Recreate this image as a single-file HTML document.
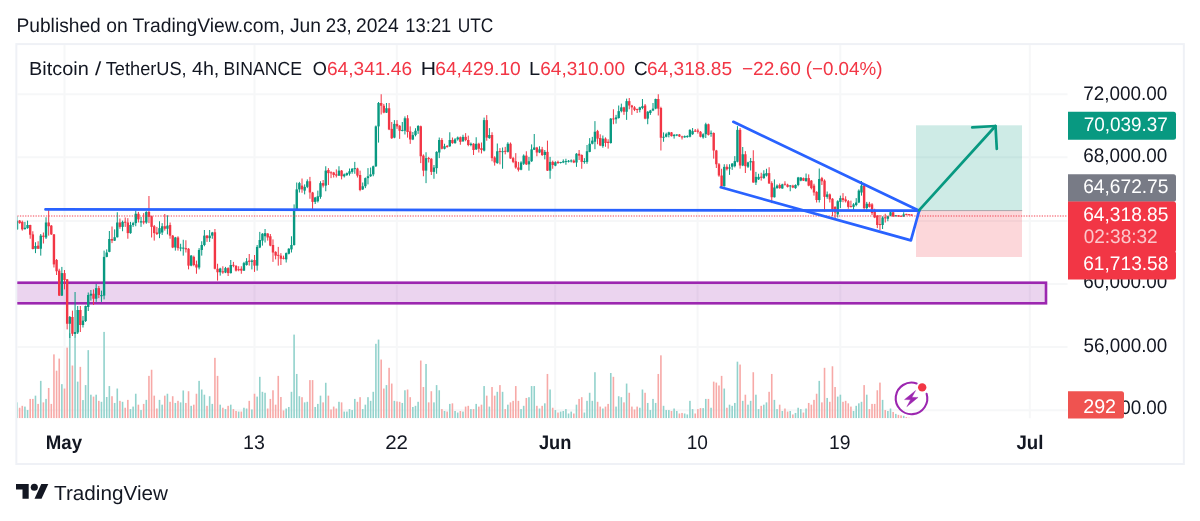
<!DOCTYPE html>
<html lang="en">
<head>
<meta charset="utf-8">
<title>BTCUSDT 4h chart</title>
<style>
html,body{margin:0;padding:0;background:#fff;}
body{width:1200px;height:521px;overflow:hidden;}
svg{display:block;font-family:"Liberation Sans",sans-serif;opacity:0.9999;will-change:opacity;}
text{white-space:pre;text-rendering:geometricPrecision;}
</style>
</head>
<body>
<svg width="1200" height="521" viewBox="0 0 1200 521">
<rect x="16.35" y="44.1" width="1167.5" height="419.9" fill="#fff" stroke="#EFF1F6" stroke-width="2"/>
<g stroke="#F6F7F8" stroke-width="2">
<line x1="64.5" y1="45" x2="64.5" y2="418.3"/>
<line x1="254.5" y1="45" x2="254.5" y2="418.3"/>
<line x1="396.8" y1="45" x2="396.8" y2="418.3"/>
<line x1="555.2" y1="45" x2="555.2" y2="418.3"/>
<line x1="697.6" y1="45" x2="697.6" y2="418.3"/>
<line x1="840.3" y1="45" x2="840.3" y2="418.3"/>
<line x1="1029.8" y1="45" x2="1029.8" y2="418.3"/>
<line x1="17.3" y1="94.2" x2="1067.5" y2="94.2"/>
<line x1="17.3" y1="157.3" x2="1067.5" y2="157.3"/>
<line x1="17.3" y1="220.9" x2="1067.5" y2="220.9"/>
<line x1="17.3" y1="284.1" x2="1067.5" y2="284.1"/>
<line x1="17.3" y1="347.1" x2="1067.5" y2="347.1"/>
<line x1="17.3" y1="410.3" x2="1067.5" y2="410.3"/>
</g>
<clipPath id="pane"><rect x="17.3" y="45" width="1050.2" height="373.3"/></clipPath>
<g clip-path="url(#pane)">
<g fill="#92D2CC"><rect x="16.2" y="402.37" width="1.6" height="15.93"/><rect x="24.12" y="406.59" width="1.6" height="11.71"/><rect x="26.75" y="410.05" width="1.6" height="8.25"/><rect x="34.67" y="395.65" width="1.6" height="22.65"/><rect x="39.95" y="380.86" width="1.6" height="37.44"/><rect x="45.23" y="398.91" width="1.6" height="19.39"/><rect x="61.06" y="384.13" width="1.6" height="34.17"/><rect x="68.98" y="333.25" width="1.6" height="85.05"/><rect x="74.26" y="337.09" width="1.6" height="81.21"/><rect x="76.89" y="381.63" width="1.6" height="36.67"/><rect x="82.17" y="400.06" width="1.6" height="18.24"/><rect x="84.81" y="385.09" width="1.6" height="33.21"/><rect x="87.45" y="350.15" width="1.6" height="68.15"/><rect x="90.09" y="394.69" width="1.6" height="23.61"/><rect x="95.37" y="394.69" width="1.6" height="23.61"/><rect x="100.65" y="401.79" width="1.6" height="16.51"/><rect x="103.28" y="331.91" width="1.6" height="86.39"/><rect x="105.92" y="396.99" width="1.6" height="21.31"/><rect x="108.56" y="386.05" width="1.6" height="32.25"/><rect x="113.84" y="402.94" width="1.6" height="15.36"/><rect x="116.48" y="388.54" width="1.6" height="29.76"/><rect x="121.76" y="401.79" width="1.6" height="16.51"/><rect x="129.67" y="409.09" width="1.6" height="9.21"/><rect x="132.31" y="406.59" width="1.6" height="11.71"/><rect x="134.95" y="393.73" width="1.6" height="24.57"/><rect x="140.23" y="410.05" width="1.6" height="8.25"/><rect x="145.51" y="399.87" width="1.6" height="18.43"/><rect x="158.7" y="399.87" width="1.6" height="18.43"/><rect x="161.34" y="404.67" width="1.6" height="13.63"/><rect x="166.62" y="393.73" width="1.6" height="24.57"/><rect x="174.54" y="402.94" width="1.6" height="15.36"/><rect x="179.82" y="402.37" width="1.6" height="15.93"/><rect x="182.45" y="390.46" width="1.6" height="27.84"/><rect x="190.37" y="405.82" width="1.6" height="12.48"/><rect x="198.29" y="380.86" width="1.6" height="37.44"/><rect x="200.93" y="389.5" width="1.6" height="28.8"/><rect x="203.57" y="394.69" width="1.6" height="23.61"/><rect x="208.84" y="396.22" width="1.6" height="22.08"/><rect x="211.48" y="403.9" width="1.6" height="14.4"/><rect x="219.4" y="404.67" width="1.6" height="13.63"/><rect x="224.68" y="409.09" width="1.6" height="9.21"/><rect x="229.96" y="404.67" width="1.6" height="13.63"/><rect x="237.87" y="411.58" width="1.6" height="6.72"/><rect x="243.15" y="407.74" width="1.6" height="10.56"/><rect x="245.79" y="408.51" width="1.6" height="9.79"/><rect x="251.07" y="409.47" width="1.6" height="8.83"/><rect x="256.35" y="396.61" width="1.6" height="21.69"/><rect x="258.99" y="376.83" width="1.6" height="41.47"/><rect x="261.62" y="391.81" width="1.6" height="26.49"/><rect x="264.26" y="392.77" width="1.6" height="25.53"/><rect x="285.38" y="408.51" width="1.6" height="9.79"/><rect x="288.01" y="406.97" width="1.6" height="11.33"/><rect x="290.65" y="391.81" width="1.6" height="26.49"/><rect x="293.29" y="334.6" width="1.6" height="83.7"/><rect x="295.93" y="373.95" width="1.6" height="44.35"/><rect x="298.57" y="396.22" width="1.6" height="22.08"/><rect x="303.85" y="402.37" width="1.6" height="15.93"/><rect x="306.49" y="401.79" width="1.6" height="16.51"/><rect x="314.4" y="406.97" width="1.6" height="11.33"/><rect x="317.04" y="403.9" width="1.6" height="14.4"/><rect x="319.68" y="395.65" width="1.6" height="22.65"/><rect x="324.96" y="382.78" width="1.6" height="35.52"/><rect x="338.16" y="401.79" width="1.6" height="16.51"/><rect x="343.43" y="411.58" width="1.6" height="6.72"/><rect x="346.07" y="411.58" width="1.6" height="6.72"/><rect x="348.71" y="409.09" width="1.6" height="9.21"/><rect x="351.35" y="410.05" width="1.6" height="8.25"/><rect x="353.99" y="398.91" width="1.6" height="19.39"/><rect x="361.91" y="409.09" width="1.6" height="9.21"/><rect x="364.55" y="404.67" width="1.6" height="13.63"/><rect x="367.18" y="397.18" width="1.6" height="21.12"/><rect x="369.82" y="400.83" width="1.6" height="17.47"/><rect x="372.46" y="391.81" width="1.6" height="26.49"/><rect x="375.1" y="343.81" width="1.6" height="74.49"/><rect x="377.74" y="339.59" width="1.6" height="78.71"/><rect x="385.66" y="385.09" width="1.6" height="33.21"/><rect x="393.57" y="400.83" width="1.6" height="17.47"/><rect x="401.49" y="402.94" width="1.6" height="15.36"/><rect x="404.13" y="390.27" width="1.6" height="28.03"/><rect x="412.05" y="406.97" width="1.6" height="11.33"/><rect x="414.69" y="405.82" width="1.6" height="12.48"/><rect x="417.33" y="401.79" width="1.6" height="16.51"/><rect x="425.24" y="363.97" width="1.6" height="54.33"/><rect x="433.16" y="402.37" width="1.6" height="15.93"/><rect x="435.8" y="385.09" width="1.6" height="33.21"/><rect x="438.44" y="390.27" width="1.6" height="28.03"/><rect x="443.72" y="411" width="1.6" height="7.3"/><rect x="448.99" y="403.9" width="1.6" height="14.4"/><rect x="454.27" y="411" width="1.6" height="7.3"/><rect x="456.91" y="412.54" width="1.6" height="5.76"/><rect x="462.19" y="411.58" width="1.6" height="6.72"/><rect x="470.11" y="409.09" width="1.6" height="9.21"/><rect x="475.38" y="403.9" width="1.6" height="14.4"/><rect x="483.3" y="386.05" width="1.6" height="32.25"/><rect x="488.58" y="406.59" width="1.6" height="11.71"/><rect x="496.5" y="391.81" width="1.6" height="26.49"/><rect x="501.77" y="391.81" width="1.6" height="26.49"/><rect x="507.05" y="404.67" width="1.6" height="13.63"/><rect x="520.25" y="409.09" width="1.6" height="9.21"/><rect x="522.89" y="405.82" width="1.6" height="12.48"/><rect x="528.16" y="397.18" width="1.6" height="21.12"/><rect x="530.8" y="386.05" width="1.6" height="32.25"/><rect x="533.44" y="386.05" width="1.6" height="32.25"/><rect x="538.72" y="408.51" width="1.6" height="9.79"/><rect x="544" y="403.33" width="1.6" height="14.97"/><rect x="549.28" y="389.5" width="1.6" height="28.8"/><rect x="554.55" y="410.05" width="1.6" height="8.25"/><rect x="559.83" y="411.58" width="1.6" height="6.72"/><rect x="562.47" y="411" width="1.6" height="7.3"/><rect x="565.11" y="409.09" width="1.6" height="9.21"/><rect x="567.75" y="413.5" width="1.6" height="4.8"/><rect x="570.39" y="411.58" width="1.6" height="6.72"/><rect x="575.67" y="404.67" width="1.6" height="13.63"/><rect x="583.58" y="412.54" width="1.6" height="5.76"/><rect x="586.22" y="400.83" width="1.6" height="17.47"/><rect x="588.86" y="392.77" width="1.6" height="25.53"/><rect x="591.5" y="400.83" width="1.6" height="17.47"/><rect x="594.14" y="372.23" width="1.6" height="46.07"/><rect x="602.06" y="408.51" width="1.6" height="9.79"/><rect x="609.97" y="372.99" width="1.6" height="45.31"/><rect x="615.25" y="406.59" width="1.6" height="11.71"/><rect x="617.89" y="396.22" width="1.6" height="22.08"/><rect x="620.53" y="397.18" width="1.6" height="21.12"/><rect x="625.81" y="383.55" width="1.6" height="34.75"/><rect x="639" y="407.74" width="1.6" height="10.56"/><rect x="641.64" y="389.5" width="1.6" height="28.8"/><rect x="646.92" y="402.94" width="1.6" height="15.36"/><rect x="649.56" y="410.05" width="1.6" height="8.25"/><rect x="652.2" y="398.91" width="1.6" height="19.39"/><rect x="654.84" y="402.94" width="1.6" height="15.36"/><rect x="662.75" y="405.82" width="1.6" height="12.48"/><rect x="665.39" y="410.05" width="1.6" height="8.25"/><rect x="668.03" y="410.05" width="1.6" height="8.25"/><rect x="673.31" y="408.51" width="1.6" height="9.79"/><rect x="675.95" y="411" width="1.6" height="7.3"/><rect x="683.87" y="413.5" width="1.6" height="4.8"/><rect x="686.5" y="414.46" width="1.6" height="3.84"/><rect x="689.14" y="400.83" width="1.6" height="17.47"/><rect x="691.78" y="409.09" width="1.6" height="9.21"/><rect x="702.34" y="408.13" width="1.6" height="10.17"/><rect x="704.98" y="398.91" width="1.6" height="19.39"/><rect x="710.25" y="407.74" width="1.6" height="10.56"/><rect x="723.45" y="388.54" width="1.6" height="29.76"/><rect x="728.73" y="404.67" width="1.6" height="13.63"/><rect x="731.37" y="405.82" width="1.6" height="12.48"/><rect x="734.01" y="402.94" width="1.6" height="15.36"/><rect x="736.64" y="361.67" width="1.6" height="56.63"/><rect x="741.92" y="400.83" width="1.6" height="17.47"/><rect x="747.2" y="404.67" width="1.6" height="13.63"/><rect x="749.84" y="400.83" width="1.6" height="17.47"/><rect x="755.12" y="394.69" width="1.6" height="23.61"/><rect x="757.76" y="409.09" width="1.6" height="9.21"/><rect x="763.03" y="404.67" width="1.6" height="13.63"/><rect x="765.67" y="402.37" width="1.6" height="15.93"/><rect x="773.59" y="399.87" width="1.6" height="18.43"/><rect x="776.23" y="409.09" width="1.6" height="9.21"/><rect x="781.51" y="411" width="1.6" height="7.3"/><rect x="789.42" y="411" width="1.6" height="7.3"/><rect x="794.7" y="412.92" width="1.6" height="5.38"/><rect x="797.34" y="407.74" width="1.6" height="10.56"/><rect x="799.98" y="409.09" width="1.6" height="9.21"/><rect x="805.26" y="408.51" width="1.6" height="9.79"/><rect x="818.45" y="380.86" width="1.6" height="37.44"/><rect x="826.37" y="397.95" width="1.6" height="20.35"/><rect x="836.93" y="396.61" width="1.6" height="21.69"/><rect x="839.57" y="394.69" width="1.6" height="23.61"/><rect x="852.76" y="411" width="1.6" height="7.3"/><rect x="855.4" y="405.82" width="1.6" height="12.48"/><rect x="858.04" y="403.33" width="1.6" height="14.97"/><rect x="860.68" y="401.79" width="1.6" height="16.51"/><rect x="865.96" y="394.69" width="1.6" height="23.61"/><rect x="881.79" y="399.87" width="1.6" height="18.43"/><rect x="887.07" y="411" width="1.6" height="7.3"/><rect x="889.71" y="408.51" width="1.6" height="9.79"/><rect x="894.99" y="413.88" width="1.6" height="4.42"/><rect x="902.9" y="415.8" width="1.6" height="2.5"/></g>
<g fill="#F7A9A7"><rect x="18.84" y="407.74" width="1.6" height="10.56"/><rect x="21.48" y="405.82" width="1.6" height="12.48"/><rect x="29.39" y="398.91" width="1.6" height="19.39"/><rect x="32.03" y="398.91" width="1.6" height="19.39"/><rect x="37.31" y="403.9" width="1.6" height="14.4"/><rect x="42.59" y="402.37" width="1.6" height="15.93"/><rect x="47.87" y="387.97" width="1.6" height="30.33"/><rect x="50.51" y="403.9" width="1.6" height="14.4"/><rect x="53.14" y="354.37" width="1.6" height="63.93"/><rect x="55.78" y="370.69" width="1.6" height="47.61"/><rect x="58.42" y="358.6" width="1.6" height="59.7"/><rect x="63.7" y="388.54" width="1.6" height="29.76"/><rect x="66.34" y="347.65" width="1.6" height="70.65"/><rect x="71.62" y="365.51" width="1.6" height="52.79"/><rect x="79.53" y="366.85" width="1.6" height="51.45"/><rect x="92.73" y="396.61" width="1.6" height="21.69"/><rect x="98.01" y="400.83" width="1.6" height="17.47"/><rect x="111.2" y="396.22" width="1.6" height="22.08"/><rect x="119.12" y="400.83" width="1.6" height="17.47"/><rect x="124.4" y="407.74" width="1.6" height="10.56"/><rect x="127.04" y="399.87" width="1.6" height="18.43"/><rect x="137.59" y="404.67" width="1.6" height="13.63"/><rect x="142.87" y="403.9" width="1.6" height="14.4"/><rect x="148.15" y="375.87" width="1.6" height="42.43"/><rect x="150.79" y="369.73" width="1.6" height="48.57"/><rect x="153.43" y="395.65" width="1.6" height="22.65"/><rect x="156.06" y="408.51" width="1.6" height="9.79"/><rect x="163.98" y="395.65" width="1.6" height="22.65"/><rect x="169.26" y="401.79" width="1.6" height="16.51"/><rect x="171.9" y="396.22" width="1.6" height="22.08"/><rect x="177.18" y="400.83" width="1.6" height="17.47"/><rect x="185.09" y="402.94" width="1.6" height="15.36"/><rect x="187.73" y="391.23" width="1.6" height="27.07"/><rect x="193.01" y="404.67" width="1.6" height="13.63"/><rect x="195.65" y="393.73" width="1.6" height="24.57"/><rect x="206.21" y="405.82" width="1.6" height="12.48"/><rect x="214.12" y="357.83" width="1.6" height="60.47"/><rect x="216.76" y="375.87" width="1.6" height="42.43"/><rect x="222.04" y="407.74" width="1.6" height="10.56"/><rect x="227.32" y="405.82" width="1.6" height="12.48"/><rect x="232.6" y="409.09" width="1.6" height="9.21"/><rect x="235.23" y="411" width="1.6" height="7.3"/><rect x="240.51" y="411.58" width="1.6" height="6.72"/><rect x="248.43" y="400.83" width="1.6" height="17.47"/><rect x="253.71" y="393.73" width="1.6" height="24.57"/><rect x="266.9" y="408.51" width="1.6" height="9.79"/><rect x="269.54" y="398.91" width="1.6" height="19.39"/><rect x="272.18" y="390.27" width="1.6" height="28.03"/><rect x="274.82" y="404.67" width="1.6" height="13.63"/><rect x="277.46" y="375.87" width="1.6" height="42.43"/><rect x="280.1" y="396.99" width="1.6" height="21.31"/><rect x="282.74" y="410.43" width="1.6" height="7.87"/><rect x="301.21" y="397.18" width="1.6" height="21.12"/><rect x="309.13" y="380.1" width="1.6" height="38.2"/><rect x="311.77" y="380.1" width="1.6" height="38.2"/><rect x="322.32" y="402.37" width="1.6" height="15.93"/><rect x="327.6" y="395.65" width="1.6" height="22.65"/><rect x="330.24" y="409.47" width="1.6" height="8.83"/><rect x="332.88" y="406.59" width="1.6" height="11.71"/><rect x="335.52" y="408.51" width="1.6" height="9.79"/><rect x="340.79" y="402.37" width="1.6" height="15.93"/><rect x="356.63" y="401.79" width="1.6" height="16.51"/><rect x="359.27" y="397.18" width="1.6" height="21.12"/><rect x="380.38" y="359.56" width="1.6" height="58.74"/><rect x="383.02" y="388.54" width="1.6" height="29.76"/><rect x="388.3" y="367.81" width="1.6" height="50.49"/><rect x="390.94" y="383.55" width="1.6" height="34.75"/><rect x="396.21" y="401.41" width="1.6" height="16.89"/><rect x="398.85" y="401.79" width="1.6" height="16.51"/><rect x="406.77" y="389.5" width="1.6" height="28.8"/><rect x="409.41" y="397.18" width="1.6" height="21.12"/><rect x="419.96" y="360.52" width="1.6" height="57.78"/><rect x="422.6" y="387.01" width="1.6" height="31.29"/><rect x="427.88" y="402.37" width="1.6" height="15.93"/><rect x="430.52" y="391.23" width="1.6" height="27.07"/><rect x="441.08" y="409.09" width="1.6" height="9.21"/><rect x="446.35" y="411.58" width="1.6" height="6.72"/><rect x="451.63" y="403.33" width="1.6" height="14.97"/><rect x="459.55" y="411" width="1.6" height="7.3"/><rect x="464.83" y="406.59" width="1.6" height="11.71"/><rect x="467.47" y="405.82" width="1.6" height="12.48"/><rect x="472.74" y="409.09" width="1.6" height="9.21"/><rect x="478.02" y="406.59" width="1.6" height="11.71"/><rect x="480.66" y="404.67" width="1.6" height="13.63"/><rect x="485.94" y="395.65" width="1.6" height="22.65"/><rect x="491.22" y="387.01" width="1.6" height="31.29"/><rect x="493.86" y="395.65" width="1.6" height="22.65"/><rect x="499.13" y="385.09" width="1.6" height="33.21"/><rect x="504.41" y="409.09" width="1.6" height="9.21"/><rect x="509.69" y="402.37" width="1.6" height="15.93"/><rect x="512.33" y="400.83" width="1.6" height="17.47"/><rect x="514.97" y="386.05" width="1.6" height="32.25"/><rect x="517.61" y="400.83" width="1.6" height="17.47"/><rect x="525.53" y="397.95" width="1.6" height="20.35"/><rect x="536.08" y="405.82" width="1.6" height="12.48"/><rect x="541.36" y="405.82" width="1.6" height="12.48"/><rect x="546.64" y="373.95" width="1.6" height="44.35"/><rect x="551.91" y="407.74" width="1.6" height="10.56"/><rect x="557.19" y="412.54" width="1.6" height="5.76"/><rect x="573.03" y="413.5" width="1.6" height="4.8"/><rect x="578.3" y="398.91" width="1.6" height="19.39"/><rect x="580.94" y="397.18" width="1.6" height="21.12"/><rect x="596.78" y="401.79" width="1.6" height="16.51"/><rect x="599.42" y="406.59" width="1.6" height="11.71"/><rect x="604.7" y="406.59" width="1.6" height="11.71"/><rect x="607.33" y="403.9" width="1.6" height="14.4"/><rect x="612.61" y="376.83" width="1.6" height="41.47"/><rect x="623.17" y="402.37" width="1.6" height="15.93"/><rect x="628.45" y="392.77" width="1.6" height="25.53"/><rect x="631.09" y="406.59" width="1.6" height="11.71"/><rect x="633.72" y="409.47" width="1.6" height="8.83"/><rect x="636.36" y="406.59" width="1.6" height="11.71"/><rect x="644.28" y="392.77" width="1.6" height="25.53"/><rect x="657.48" y="373.95" width="1.6" height="44.35"/><rect x="660.11" y="355.33" width="1.6" height="62.97"/><rect x="670.67" y="411" width="1.6" height="7.3"/><rect x="678.59" y="413.5" width="1.6" height="4.8"/><rect x="681.23" y="412.92" width="1.6" height="5.38"/><rect x="694.42" y="413.5" width="1.6" height="4.8"/><rect x="697.06" y="409.09" width="1.6" height="9.21"/><rect x="699.7" y="408.13" width="1.6" height="10.17"/><rect x="707.62" y="398.91" width="1.6" height="19.39"/><rect x="712.89" y="381.63" width="1.6" height="36.67"/><rect x="715.53" y="382.59" width="1.6" height="35.71"/><rect x="718.17" y="385.47" width="1.6" height="32.83"/><rect x="720.81" y="375.87" width="1.6" height="42.43"/><rect x="726.09" y="407.74" width="1.6" height="10.56"/><rect x="739.28" y="364.55" width="1.6" height="53.75"/><rect x="744.56" y="394.69" width="1.6" height="23.61"/><rect x="752.48" y="372.23" width="1.6" height="46.07"/><rect x="760.4" y="405.82" width="1.6" height="12.48"/><rect x="768.31" y="391.81" width="1.6" height="26.49"/><rect x="770.95" y="373.95" width="1.6" height="44.35"/><rect x="778.87" y="404.67" width="1.6" height="13.63"/><rect x="784.15" y="408.51" width="1.6" height="9.79"/><rect x="786.79" y="411.58" width="1.6" height="6.72"/><rect x="792.06" y="414.46" width="1.6" height="3.84"/><rect x="802.62" y="412.54" width="1.6" height="5.76"/><rect x="807.9" y="402.94" width="1.6" height="15.36"/><rect x="810.54" y="404.67" width="1.6" height="13.63"/><rect x="813.18" y="399.87" width="1.6" height="18.43"/><rect x="815.81" y="393.73" width="1.6" height="24.57"/><rect x="821.09" y="402.37" width="1.6" height="15.93"/><rect x="823.73" y="367.81" width="1.6" height="50.49"/><rect x="829.01" y="401.79" width="1.6" height="16.51"/><rect x="831.65" y="366.27" width="1.6" height="52.03"/><rect x="834.29" y="387.01" width="1.6" height="31.29"/><rect x="842.2" y="401.79" width="1.6" height="16.51"/><rect x="844.84" y="400.83" width="1.6" height="17.47"/><rect x="847.48" y="403.33" width="1.6" height="14.97"/><rect x="850.12" y="406.59" width="1.6" height="11.71"/><rect x="863.32" y="385.09" width="1.6" height="33.21"/><rect x="868.6" y="409.09" width="1.6" height="9.21"/><rect x="871.23" y="403.9" width="1.6" height="14.4"/><rect x="873.87" y="403.9" width="1.6" height="14.4"/><rect x="876.51" y="390.27" width="1.6" height="28.03"/><rect x="879.15" y="382.59" width="1.6" height="35.71"/><rect x="884.43" y="410.05" width="1.6" height="8.25"/><rect x="892.35" y="411.96" width="1.6" height="6.34"/><rect x="897.62" y="414.84" width="1.6" height="3.46"/><rect x="900.26" y="415.42" width="1.6" height="2.88"/><rect x="905.54" y="417.15" width="1.6" height="1.15"/><rect x="908.18" y="417.72" width="1.6" height="0.58"/><rect x="910.82" y="417.9" width="1.6" height="0.4"/></g>
<rect x="5" y="282.7" width="1041" height="20.6" fill="#9C27B0" fill-opacity="0.2" stroke="#9C27B0" stroke-width="2.6"/>
<g fill="#089981"><rect x="16.5" y="216.25" width="1" height="13.75"/><rect x="24.42" y="221.88" width="1" height="7.88"/><rect x="27.05" y="220.62" width="1" height="8.12"/><rect x="34.97" y="242.25" width="1" height="10.88"/><rect x="40.25" y="234" width="1" height="21.62"/><rect x="45.53" y="217.25" width="1" height="21.75"/><rect x="61.36" y="266.9" width="1" height="29.1"/><rect x="69.28" y="316" width="1" height="22"/><rect x="74.56" y="292" width="1" height="45.5"/><rect x="77.19" y="306" width="1" height="28"/><rect x="82.47" y="316" width="1" height="11.5"/><rect x="85.11" y="305.6" width="1" height="16.4"/><rect x="87.75" y="292.5" width="1" height="18.5"/><rect x="90.39" y="290" width="1" height="10.6"/><rect x="95.67" y="284" width="1" height="17.9"/><rect x="100.95" y="290.6" width="1" height="11.3"/><rect x="103.58" y="250.6" width="1" height="48.8"/><rect x="106.22" y="249.38" width="1" height="7.88"/><rect x="108.86" y="231" width="1" height="21.25"/><rect x="114.14" y="229.38" width="1" height="11.62"/><rect x="116.78" y="212.25" width="1" height="25.25"/><rect x="122.06" y="220.62" width="1" height="10.62"/><rect x="129.97" y="221.88" width="1" height="11.88"/><rect x="132.61" y="221.88" width="1" height="5"/><rect x="135.25" y="210.62" width="1" height="15.62"/><rect x="140.53" y="216.88" width="1" height="10"/><rect x="145.81" y="211.25" width="1" height="12.5"/><rect x="159" y="221.25" width="1" height="16.88"/><rect x="161.64" y="223.12" width="1" height="11.88"/><rect x="166.92" y="215.25" width="1" height="19.12"/><rect x="174.84" y="236.88" width="1" height="13.75"/><rect x="180.12" y="243.75" width="1" height="7.5"/><rect x="182.75" y="239.75" width="1" height="15.88"/><rect x="190.67" y="255" width="1" height="11.25"/><rect x="198.59" y="248.12" width="1" height="21.25"/><rect x="201.23" y="241.25" width="1" height="14.38"/><rect x="203.87" y="230" width="1" height="16.25"/><rect x="209.14" y="230" width="1" height="11.88"/><rect x="211.78" y="231.88" width="1" height="6.88"/><rect x="219.7" y="267.75" width="1" height="7.88"/><rect x="224.98" y="266.88" width="1" height="6.25"/><rect x="230.26" y="260" width="1" height="13.5"/><rect x="243.45" y="261.88" width="1" height="9.12"/><rect x="246.09" y="258.12" width="1" height="7.5"/><rect x="251.37" y="259.38" width="1" height="10"/><rect x="256.65" y="245" width="1" height="25.62"/><rect x="259.29" y="231.88" width="1" height="16.25"/><rect x="261.92" y="233.12" width="1" height="12.5"/><rect x="264.56" y="229" width="1" height="13.5"/><rect x="285.68" y="252.5" width="1" height="10"/><rect x="288.31" y="248.12" width="1" height="6.25"/><rect x="290.95" y="236.25" width="1" height="16.25"/><rect x="293.59" y="204.38" width="1" height="41.25"/><rect x="296.23" y="182.5" width="1" height="28.12"/><rect x="298.87" y="181.88" width="1" height="10.62"/><rect x="304.15" y="184.38" width="1" height="10"/><rect x="306.79" y="179.38" width="1" height="8.75"/><rect x="314.7" y="196.88" width="1" height="7.12"/><rect x="317.34" y="190.62" width="1" height="11.88"/><rect x="319.98" y="181.25" width="1" height="17.5"/><rect x="325.26" y="166.25" width="1" height="25"/><rect x="338.46" y="166.25" width="1" height="9.75"/><rect x="343.73" y="173.5" width="1" height="4"/><rect x="346.37" y="172.5" width="1" height="3.5"/><rect x="349.01" y="168.5" width="1" height="7.12"/><rect x="351.65" y="168.12" width="1" height="5.62"/><rect x="354.29" y="161.88" width="1" height="11.88"/><rect x="362.21" y="182.5" width="1" height="7.5"/><rect x="364.85" y="177.5" width="1" height="10.62"/><rect x="367.48" y="168.12" width="1" height="16.25"/><rect x="370.12" y="167.5" width="1" height="9.38"/><rect x="372.76" y="165.62" width="1" height="10.62"/><rect x="375.4" y="125.5" width="1" height="41.5"/><rect x="378.04" y="102" width="1" height="40.6"/><rect x="385.96" y="103" width="1" height="10"/><rect x="393.88" y="120.12" width="1" height="18.12"/><rect x="401.79" y="122" width="1" height="9.38"/><rect x="404.43" y="116.38" width="1" height="18.12"/><rect x="412.35" y="132" width="1" height="8.12"/><rect x="414.99" y="128.25" width="1" height="8.12"/><rect x="417.63" y="125.12" width="1" height="8.75"/><rect x="425.54" y="152.25" width="1" height="30.88"/><rect x="433.46" y="165" width="1" height="13.75"/><rect x="436.1" y="151.25" width="1" height="22.5"/><rect x="438.74" y="137.5" width="1" height="20.62"/><rect x="444.02" y="143.75" width="1" height="5.62"/><rect x="449.29" y="132.25" width="1" height="14.62"/><rect x="454.57" y="138.12" width="1" height="5.62"/><rect x="457.21" y="136.5" width="1" height="4.12"/><rect x="462.49" y="134.75" width="1" height="7.12"/><rect x="470.41" y="142.5" width="1" height="3.75"/><rect x="475.68" y="137.25" width="1" height="12.75"/><rect x="483.6" y="117.6" width="1" height="33.8"/><rect x="488.88" y="128.12" width="1" height="10.62"/><rect x="496.8" y="143.5" width="1" height="20.25"/><rect x="502.07" y="147.5" width="1" height="21.25"/><rect x="507.35" y="142.25" width="1" height="10.25"/><rect x="520.55" y="161.25" width="1" height="9"/><rect x="523.19" y="154.38" width="1" height="10.62"/><rect x="528.46" y="156.88" width="1" height="13.75"/><rect x="531.1" y="144.38" width="1" height="17.5"/><rect x="533.74" y="134" width="1" height="16"/><rect x="539.02" y="146.25" width="1" height="6.88"/><rect x="544.3" y="150" width="1" height="9.38"/><rect x="549.58" y="156.88" width="1" height="21.88"/><rect x="554.85" y="161.25" width="1" height="5"/><rect x="560.13" y="161.88" width="1" height="1.62"/><rect x="562.77" y="159.38" width="1" height="3.75"/><rect x="565.41" y="158.75" width="1" height="6"/><rect x="568.05" y="160" width="1" height="2.5"/><rect x="570.69" y="159.38" width="1" height="3.12"/><rect x="575.97" y="153.12" width="1" height="13.75"/><rect x="583.88" y="158.12" width="1" height="5.62"/><rect x="586.52" y="145" width="1" height="18.75"/><rect x="589.16" y="138.12" width="1" height="14.12"/><rect x="591.8" y="136.88" width="1" height="7.5"/><rect x="594.44" y="121.12" width="1" height="28.12"/><rect x="602.36" y="135.5" width="1" height="12.25"/><rect x="610.27" y="118" width="1" height="25.62"/><rect x="615.55" y="114.88" width="1" height="8.75"/><rect x="618.19" y="105.5" width="1" height="13.12"/><rect x="620.83" y="103.62" width="1" height="8.75"/><rect x="626.11" y="98.62" width="1" height="21.25"/><rect x="639.3" y="106.75" width="1" height="5.62"/><rect x="641.94" y="99" width="1" height="10.25"/><rect x="647.22" y="111.12" width="1" height="13.12"/><rect x="649.86" y="109.88" width="1" height="5"/><rect x="652.5" y="103" width="1" height="8.12"/><rect x="655.14" y="98.62" width="1" height="10.62"/><rect x="663.05" y="132.38" width="1" height="9.38"/><rect x="665.69" y="132.75" width="1" height="4.62"/><rect x="668.33" y="131.75" width="1" height="5.62"/><rect x="673.61" y="134" width="1" height="4.62"/><rect x="676.25" y="134.25" width="1" height="1.88"/><rect x="684.16" y="135.5" width="1" height="2.25"/><rect x="686.8" y="135.25" width="1" height="2.5"/><rect x="689.44" y="129.25" width="1" height="8.12"/><rect x="692.08" y="128" width="1" height="6.88"/><rect x="702.64" y="133.25" width="1" height="5.38"/><rect x="705.28" y="122.75" width="1" height="15.25"/><rect x="710.55" y="130.5" width="1" height="6.25"/><rect x="723.75" y="164.25" width="1" height="22.25"/><rect x="729.03" y="164.25" width="1" height="10.62"/><rect x="731.67" y="163" width="1" height="6.88"/><rect x="734.31" y="156.12" width="1" height="11.25"/><rect x="736.94" y="126.12" width="1" height="36.25"/><rect x="742.22" y="147" width="1" height="19.12"/><rect x="747.5" y="161.75" width="1" height="6.25"/><rect x="750.14" y="158" width="1" height="12.5"/><rect x="755.42" y="171.88" width="1" height="13.12"/><rect x="758.06" y="173.75" width="1" height="6.25"/><rect x="763.33" y="170.25" width="1" height="8.5"/><rect x="765.97" y="168.75" width="1" height="7.75"/><rect x="773.89" y="179.38" width="1" height="18.12"/><rect x="776.53" y="184.38" width="1" height="4.38"/><rect x="781.81" y="183.75" width="1" height="5"/><rect x="789.72" y="185" width="1" height="6.25"/><rect x="795" y="184.38" width="1" height="4.38"/><rect x="797.64" y="176.88" width="1" height="9.38"/><rect x="800.28" y="177.25" width="1" height="4"/><rect x="805.56" y="173.5" width="1" height="8"/><rect x="818.75" y="168.5" width="1" height="34"/><rect x="826.67" y="191.5" width="1" height="7.25"/><rect x="837.23" y="200.25" width="1" height="17.25"/><rect x="839.87" y="195.62" width="1" height="12.5"/><rect x="853.06" y="203.12" width="1" height="6.88"/><rect x="855.7" y="198.12" width="1" height="8.12"/><rect x="858.34" y="189.38" width="1" height="13.75"/><rect x="860.98" y="181" width="1" height="14.62"/><rect x="866.26" y="201.88" width="1" height="10"/><rect x="882.09" y="216.25" width="1" height="12.75"/><rect x="887.37" y="215.62" width="1" height="5.62"/><rect x="890.01" y="211.88" width="1" height="4.38"/><rect x="895.28" y="215" width="1" height="1.5"/><rect x="903.2" y="212.25" width="1" height="4.62"/><rect x="15.8" y="220.62" width="2.4" height="8.75"/><rect x="23.72" y="227.75" width="2.4" height="1.25"/><rect x="26.35" y="225" width="2.4" height="3.12"/><rect x="34.27" y="246" width="2.4" height="2.75"/><rect x="39.55" y="235.62" width="2.4" height="13.12"/><rect x="44.83" y="222.5" width="2.4" height="15"/><rect x="60.66" y="273.1" width="2.4" height="22.5"/><rect x="68.58" y="316.9" width="2.4" height="6.85"/><rect x="73.86" y="332" width="2.4" height="2"/><rect x="76.49" y="310" width="2.4" height="22.5"/><rect x="81.77" y="320.6" width="2.4" height="4.4"/><rect x="84.41" y="306" width="2.4" height="15"/><rect x="87.05" y="295" width="2.4" height="12"/><rect x="89.69" y="293.75" width="2.4" height="1.85"/><rect x="94.97" y="288.1" width="2.4" height="10.65"/><rect x="100.25" y="295" width="2.4" height="1.25"/><rect x="102.88" y="256.9" width="2.4" height="38.7"/><rect x="105.52" y="252.5" width="2.4" height="4.38"/><rect x="108.16" y="239" width="2.4" height="12.88"/><rect x="113.44" y="237.25" width="2.4" height="3.38"/><rect x="116.08" y="222.5" width="2.4" height="14.75"/><rect x="121.36" y="221.88" width="2.4" height="5"/><rect x="129.28" y="225" width="2.4" height="8.12"/><rect x="131.91" y="223.12" width="2.4" height="1.88"/><rect x="134.55" y="213.75" width="2.4" height="9.38"/><rect x="139.83" y="221.25" width="2.4" height="1.25"/><rect x="145.11" y="211.88" width="2.4" height="10.62"/><rect x="158.3" y="228.12" width="2.4" height="5.62"/><rect x="160.94" y="226.25" width="2.4" height="6.25"/><rect x="166.22" y="225.62" width="2.4" height="3.12"/><rect x="174.14" y="237.5" width="2.4" height="10"/><rect x="179.42" y="247.5" width="2.4" height="1"/><rect x="182.06" y="247.62" width="2.4" height="1"/><rect x="189.97" y="255.62" width="2.4" height="10"/><rect x="197.89" y="250" width="2.4" height="17.5"/><rect x="200.53" y="245" width="2.4" height="5"/><rect x="203.17" y="235.62" width="2.4" height="9.38"/><rect x="208.44" y="235.62" width="2.4" height="2.5"/><rect x="211.08" y="232.5" width="2.4" height="3.12"/><rect x="219" y="268.5" width="2.4" height="3.75"/><rect x="224.28" y="268.12" width="2.4" height="4.38"/><rect x="229.56" y="265" width="2.4" height="8.12"/><rect x="242.75" y="263.12" width="2.4" height="7.5"/><rect x="245.39" y="261.25" width="2.4" height="3.75"/><rect x="250.67" y="260.62" width="2.4" height="1.25"/><rect x="255.95" y="246.88" width="2.4" height="18.75"/><rect x="258.59" y="240" width="2.4" height="7.5"/><rect x="261.22" y="233.75" width="2.4" height="6.88"/><rect x="263.86" y="233.12" width="2.4" height="3.12"/><rect x="284.98" y="253.12" width="2.4" height="6.25"/><rect x="287.61" y="248.75" width="2.4" height="5"/><rect x="290.25" y="245" width="2.4" height="4.38"/><rect x="292.89" y="209.38" width="2.4" height="35.62"/><rect x="295.53" y="189.38" width="2.4" height="20.62"/><rect x="298.17" y="183.12" width="2.4" height="6.25"/><rect x="303.45" y="186.88" width="2.4" height="3.75"/><rect x="306.09" y="181.25" width="2.4" height="5.62"/><rect x="314" y="197.5" width="2.4" height="4.38"/><rect x="316.64" y="196.25" width="2.4" height="5"/><rect x="319.28" y="183.12" width="2.4" height="13.75"/><rect x="324.56" y="170.62" width="2.4" height="15"/><rect x="337.76" y="170.62" width="2.4" height="5"/><rect x="343.03" y="174.38" width="2.4" height="1.88"/><rect x="345.67" y="173.12" width="2.4" height="1.88"/><rect x="348.31" y="171.25" width="2.4" height="2.5"/><rect x="350.95" y="168.75" width="2.4" height="3.12"/><rect x="353.59" y="168.12" width="2.4" height="1"/><rect x="361.51" y="186.25" width="2.4" height="3.12"/><rect x="364.15" y="178.12" width="2.4" height="8.12"/><rect x="366.78" y="176.25" width="2.4" height="1.88"/><rect x="369.42" y="174.38" width="2.4" height="1.88"/><rect x="372.06" y="166.25" width="2.4" height="8.12"/><rect x="374.7" y="126.4" width="2.4" height="39.85"/><rect x="377.34" y="103" width="2.4" height="23.4"/><rect x="385.26" y="108.25" width="2.4" height="4.38"/><rect x="393.18" y="123.88" width="2.4" height="13.75"/><rect x="401.09" y="129.94" width="2.4" height="1"/><rect x="403.73" y="118.25" width="2.4" height="12.5"/><rect x="411.65" y="135.12" width="2.4" height="4.38"/><rect x="414.29" y="130.75" width="2.4" height="4.38"/><rect x="416.93" y="126" width="2.4" height="4.75"/><rect x="424.84" y="158.12" width="2.4" height="12.5"/><rect x="432.76" y="167.5" width="2.4" height="4.38"/><rect x="435.4" y="151.88" width="2.4" height="16.25"/><rect x="438.04" y="140" width="2.4" height="12.5"/><rect x="443.32" y="146.25" width="2.4" height="2.5"/><rect x="448.59" y="140" width="2.4" height="6.25"/><rect x="453.87" y="139.38" width="2.4" height="3.75"/><rect x="456.51" y="137.5" width="2.4" height="1.88"/><rect x="461.79" y="136.88" width="2.4" height="4.38"/><rect x="469.71" y="143.75" width="2.4" height="1.25"/><rect x="474.98" y="143.75" width="2.4" height="5.62"/><rect x="482.9" y="120.1" width="2.4" height="30.5"/><rect x="488.18" y="135" width="2.4" height="3.12"/><rect x="496.1" y="151.25" width="2.4" height="11.88"/><rect x="501.37" y="151.19" width="2.4" height="1"/><rect x="506.65" y="143.75" width="2.4" height="8.12"/><rect x="519.85" y="162.5" width="2.4" height="7.25"/><rect x="522.49" y="155.62" width="2.4" height="8.12"/><rect x="527.76" y="161.25" width="2.4" height="3.12"/><rect x="530.4" y="149.38" width="2.4" height="11.88"/><rect x="533.04" y="147.5" width="2.4" height="2.25"/><rect x="538.32" y="149.38" width="2.4" height="3.12"/><rect x="543.6" y="151.88" width="2.4" height="3.12"/><rect x="548.88" y="161.88" width="2.4" height="8.75"/><rect x="554.15" y="162.25" width="2.4" height="3.38"/><rect x="559.43" y="162" width="2.4" height="1"/><rect x="562.07" y="161.25" width="2.4" height="1.25"/><rect x="564.71" y="161.06" width="2.4" height="1"/><rect x="567.35" y="160.75" width="2.4" height="1"/><rect x="569.99" y="160.44" width="2.4" height="1"/><rect x="575.27" y="153.75" width="2.4" height="8.75"/><rect x="583.18" y="161.06" width="2.4" height="1"/><rect x="585.82" y="151.25" width="2.4" height="10.62"/><rect x="588.46" y="143.75" width="2.4" height="8.12"/><rect x="591.1" y="140.62" width="2.4" height="3.12"/><rect x="593.74" y="131.75" width="2.4" height="10"/><rect x="601.66" y="138.62" width="2.4" height="7.5"/><rect x="609.57" y="118.62" width="2.4" height="24.38"/><rect x="614.85" y="117.38" width="2.4" height="1.88"/><rect x="617.49" y="111.12" width="2.4" height="6.88"/><rect x="620.13" y="107.38" width="2.4" height="3.75"/><rect x="625.41" y="101.12" width="2.4" height="10.62"/><rect x="638.6" y="107.38" width="2.4" height="2.5"/><rect x="641.24" y="106.12" width="2.4" height="1.88"/><rect x="646.52" y="111.75" width="2.4" height="6.88"/><rect x="649.16" y="110.5" width="2.4" height="2.5"/><rect x="651.8" y="108.62" width="2.4" height="1.88"/><rect x="654.44" y="99" width="2.4" height="9.62"/><rect x="662.35" y="136.75" width="2.4" height="1"/><rect x="664.99" y="134.25" width="2.4" height="2.5"/><rect x="667.63" y="132.38" width="2.4" height="2.5"/><rect x="672.91" y="134.88" width="2.4" height="1.25"/><rect x="675.55" y="134.5" width="2.4" height="1"/><rect x="683.46" y="136.12" width="2.4" height="1.25"/><rect x="686.1" y="136.06" width="2.4" height="1"/><rect x="688.74" y="129.88" width="2.4" height="6.88"/><rect x="691.38" y="131.12" width="2.4" height="3.12"/><rect x="701.94" y="134.25" width="2.4" height="3.12"/><rect x="704.58" y="124.25" width="2.4" height="10"/><rect x="709.85" y="132.81" width="2.4" height="1"/><rect x="723.05" y="166.9" width="2.4" height="19.35"/><rect x="728.33" y="167.38" width="2.4" height="1.25"/><rect x="730.97" y="163.62" width="2.4" height="3.12"/><rect x="733.61" y="161.12" width="2.4" height="5"/><rect x="736.24" y="129.88" width="2.4" height="31.88"/><rect x="741.52" y="154.25" width="2.4" height="11.25"/><rect x="746.8" y="162.38" width="2.4" height="4.38"/><rect x="749.44" y="161.12" width="2.4" height="1.25"/><rect x="754.72" y="176.88" width="2.4" height="5.62"/><rect x="757.36" y="176.88" width="2.4" height="2.5"/><rect x="762.63" y="173.75" width="2.4" height="4.38"/><rect x="765.27" y="173.12" width="2.4" height="2.5"/><rect x="773.19" y="187.5" width="2.4" height="9.75"/><rect x="775.83" y="185.62" width="2.4" height="2.5"/><rect x="781.11" y="184.38" width="2.4" height="4.12"/><rect x="789.02" y="185.44" width="2.4" height="1"/><rect x="794.3" y="185" width="2.4" height="3.12"/><rect x="796.94" y="177.5" width="2.4" height="7.5"/><rect x="799.58" y="177.5" width="2.4" height="3.12"/><rect x="804.86" y="178.12" width="2.4" height="3.12"/><rect x="818.05" y="179" width="2.4" height="21"/><rect x="825.97" y="194.38" width="2.4" height="2.5"/><rect x="836.53" y="201.25" width="2.4" height="13.12"/><rect x="839.17" y="198.12" width="2.4" height="3.75"/><rect x="852.36" y="204.38" width="2.4" height="2.5"/><rect x="855" y="202.5" width="2.4" height="2.5"/><rect x="857.64" y="190.62" width="2.4" height="11.88"/><rect x="860.28" y="185.62" width="2.4" height="6.88"/><rect x="865.56" y="203.75" width="2.4" height="4.38"/><rect x="881.39" y="217.5" width="2.4" height="7.5"/><rect x="886.67" y="216.25" width="2.4" height="2.5"/><rect x="889.31" y="212.25" width="2.4" height="3.38"/><rect x="894.58" y="215.25" width="2.4" height="1"/><rect x="902.5" y="214.38" width="2.4" height="2.12"/></g>
<g fill="#F23645"><rect x="19.14" y="220" width="1" height="3.75"/><rect x="21.78" y="220.62" width="1" height="10"/><rect x="29.69" y="224.75" width="1" height="14"/><rect x="32.33" y="231.25" width="1" height="18.12"/><rect x="37.61" y="241.25" width="1" height="7.75"/><rect x="42.89" y="232.5" width="1" height="11"/><rect x="48.17" y="209.38" width="1" height="26.25"/><rect x="50.8" y="225" width="1" height="10"/><rect x="53.44" y="234" width="1" height="33.5"/><rect x="56.08" y="259" width="1" height="16"/><rect x="58.72" y="268.75" width="1" height="27.25"/><rect x="64" y="270" width="1" height="19.4"/><rect x="66.64" y="279" width="1" height="50.4"/><rect x="71.92" y="310.6" width="1" height="25.4"/><rect x="79.83" y="306" width="1" height="26"/><rect x="93.03" y="289.4" width="1" height="15.6"/><rect x="98.31" y="286" width="1" height="12.1"/><rect x="111.5" y="226.5" width="1" height="16.62"/><rect x="119.42" y="218.5" width="1" height="10.25"/><rect x="124.7" y="217.5" width="1" height="9.38"/><rect x="127.34" y="218.12" width="1" height="20.62"/><rect x="137.89" y="211.88" width="1" height="10.62"/><rect x="143.17" y="213.12" width="1" height="11.25"/><rect x="148.45" y="196" width="1" height="27.12"/><rect x="151.09" y="215.62" width="1" height="21.88"/><rect x="153.73" y="225" width="1" height="15.62"/><rect x="156.37" y="226.88" width="1" height="8.12"/><rect x="164.28" y="214" width="1" height="16.62"/><rect x="169.56" y="222.5" width="1" height="16.25"/><rect x="172.2" y="235" width="1" height="13.12"/><rect x="177.48" y="236.25" width="1" height="14.38"/><rect x="185.39" y="240.25" width="1" height="12.25"/><rect x="188.03" y="248.12" width="1" height="21.25"/><rect x="193.31" y="255.62" width="1" height="10.62"/><rect x="195.95" y="260.62" width="1" height="13.12"/><rect x="206.51" y="235" width="1" height="6.88"/><rect x="214.42" y="229" width="1" height="40.4"/><rect x="217.06" y="263.75" width="1" height="16.88"/><rect x="222.34" y="266.25" width="1" height="7.5"/><rect x="227.62" y="267.25" width="1" height="8.75"/><rect x="232.9" y="261.88" width="1" height="5.38"/><rect x="235.53" y="265" width="1" height="6.5"/><rect x="238.17" y="266.25" width="1" height="5"/><rect x="240.81" y="266.25" width="1" height="7.5"/><rect x="248.73" y="254" width="1" height="11.62"/><rect x="254.01" y="255" width="1" height="16.88"/><rect x="267.2" y="233.12" width="1" height="7.5"/><rect x="269.84" y="234" width="1" height="12.25"/><rect x="272.48" y="239.38" width="1" height="22.5"/><rect x="275.12" y="251.25" width="1" height="8.12"/><rect x="277.76" y="246.88" width="1" height="18.75"/><rect x="280.4" y="253.12" width="1" height="11.88"/><rect x="283.04" y="255.62" width="1" height="3.75"/><rect x="301.51" y="178.5" width="1" height="14.25"/><rect x="309.43" y="176.88" width="1" height="21.88"/><rect x="312.07" y="191.88" width="1" height="18.75"/><rect x="322.62" y="180" width="1" height="7.5"/><rect x="327.9" y="168.12" width="1" height="16.88"/><rect x="330.54" y="171.25" width="1" height="6.88"/><rect x="333.18" y="171.88" width="1" height="5.62"/><rect x="335.82" y="169.38" width="1" height="8.12"/><rect x="341.09" y="170" width="1" height="9.38"/><rect x="356.93" y="167.75" width="1" height="9.75"/><rect x="359.57" y="170.62" width="1" height="20.62"/><rect x="380.68" y="94.25" width="1" height="20.25"/><rect x="383.32" y="103.88" width="1" height="9.38"/><rect x="388.6" y="103" width="1" height="27.12"/><rect x="391.24" y="122" width="1" height="16.88"/><rect x="396.51" y="120.12" width="1" height="8.75"/><rect x="399.15" y="125.12" width="1" height="13.75"/><rect x="407.07" y="115.12" width="1" height="22.5"/><rect x="409.71" y="126.38" width="1" height="17.5"/><rect x="420.26" y="125.62" width="1" height="37.5"/><rect x="422.9" y="154.38" width="1" height="21.88"/><rect x="428.18" y="156.88" width="1" height="5.62"/><rect x="430.82" y="158.12" width="1" height="16.88"/><rect x="441.38" y="138.12" width="1" height="11.25"/><rect x="446.65" y="145" width="1" height="2.75"/><rect x="451.93" y="137.5" width="1" height="6.25"/><rect x="459.85" y="136.5" width="1" height="8.25"/><rect x="465.13" y="133.12" width="1" height="8.12"/><rect x="467.77" y="135.62" width="1" height="10.62"/><rect x="473.04" y="143.12" width="1" height="11.88"/><rect x="478.32" y="142.75" width="1" height="9.75"/><rect x="480.96" y="142.5" width="1" height="11"/><rect x="486.24" y="115.1" width="1" height="25.65"/><rect x="491.52" y="132.25" width="1" height="29"/><rect x="494.16" y="156.25" width="1" height="9.38"/><rect x="499.43" y="148.12" width="1" height="16.25"/><rect x="504.71" y="146.88" width="1" height="7.5"/><rect x="509.99" y="142.5" width="1" height="16.25"/><rect x="512.63" y="156.88" width="1" height="6.25"/><rect x="515.27" y="153.12" width="1" height="15.62"/><rect x="517.91" y="161.88" width="1" height="9.62"/><rect x="525.83" y="151.25" width="1" height="13.75"/><rect x="536.38" y="146.88" width="1" height="9.38"/><rect x="541.66" y="146.88" width="1" height="9.12"/><rect x="546.94" y="140.62" width="1" height="30.38"/><rect x="552.21" y="160.62" width="1" height="8.12"/><rect x="557.49" y="160.62" width="1" height="3.12"/><rect x="573.33" y="159.38" width="1" height="3.75"/><rect x="578.6" y="150" width="1" height="10"/><rect x="581.24" y="154.38" width="1" height="14.38"/><rect x="597.08" y="129.88" width="1" height="14.38"/><rect x="599.72" y="134.25" width="1" height="11.88"/><rect x="605" y="137.38" width="1" height="9.38"/><rect x="607.63" y="139.25" width="1" height="9.38"/><rect x="612.91" y="109.25" width="1" height="15"/><rect x="623.47" y="106.75" width="1" height="8.12"/><rect x="628.75" y="98" width="1" height="11.25"/><rect x="631.38" y="104.88" width="1" height="10"/><rect x="634.02" y="106.12" width="1" height="5"/><rect x="636.66" y="108.62" width="1" height="4.38"/><rect x="644.58" y="104" width="1" height="15.25"/><rect x="657.77" y="94.25" width="1" height="21.25"/><rect x="660.41" y="106.75" width="1" height="43.75"/><rect x="670.97" y="132" width="1" height="4.5"/><rect x="678.89" y="134" width="1" height="3"/><rect x="681.53" y="135.75" width="1" height="3.75"/><rect x="694.72" y="129" width="1" height="3"/><rect x="697.36" y="128.62" width="1" height="5"/><rect x="700" y="131.12" width="1" height="6.25"/><rect x="707.92" y="123.62" width="1" height="11.88"/><rect x="713.19" y="132.38" width="1" height="26.25"/><rect x="715.83" y="149.88" width="1" height="18.12"/><rect x="718.47" y="163" width="1" height="13.75"/><rect x="721.11" y="168.75" width="1" height="18.75"/><rect x="726.39" y="164.25" width="1" height="6.25"/><rect x="739.58" y="128" width="1" height="40.62"/><rect x="744.86" y="151.12" width="1" height="21.88"/><rect x="752.78" y="150.25" width="1" height="32.5"/><rect x="760.7" y="172.75" width="1" height="7.88"/><rect x="768.61" y="167.25" width="1" height="16.5"/><rect x="771.25" y="181.25" width="1" height="21.88"/><rect x="779.17" y="183.5" width="1" height="5.25"/><rect x="784.45" y="181.25" width="1" height="4.38"/><rect x="787.09" y="183.75" width="1" height="3.75"/><rect x="792.36" y="184.75" width="1" height="3.38"/><rect x="802.92" y="177.5" width="1" height="3.5"/><rect x="808.2" y="174.38" width="1" height="11.88"/><rect x="810.84" y="180" width="1" height="9.38"/><rect x="813.48" y="183.75" width="1" height="11.88"/><rect x="816.11" y="191.25" width="1" height="11.25"/><rect x="821.39" y="176.88" width="1" height="8.12"/><rect x="824.03" y="179.38" width="1" height="32.12"/><rect x="829.31" y="193.5" width="1" height="9"/><rect x="831.95" y="198.12" width="1" height="18.12"/><rect x="834.59" y="206.25" width="1" height="13.12"/><rect x="842.5" y="193.12" width="1" height="9.12"/><rect x="845.14" y="196.25" width="1" height="6.25"/><rect x="847.78" y="200" width="1" height="8.75"/><rect x="850.42" y="200.62" width="1" height="6.88"/><rect x="863.62" y="184.38" width="1" height="25.62"/><rect x="868.89" y="201.88" width="1" height="5.62"/><rect x="871.53" y="203.12" width="1" height="11.88"/><rect x="874.17" y="208.75" width="1" height="9.38"/><rect x="876.81" y="215" width="1" height="13.12"/><rect x="879.45" y="215" width="1" height="15"/><rect x="884.73" y="213.75" width="1" height="8.75"/><rect x="892.65" y="211.88" width="1" height="5"/><rect x="897.92" y="215" width="1" height="1.88"/><rect x="900.56" y="215.5" width="1" height="1.5"/><rect x="905.84" y="213.75" width="1" height="1.5"/><rect x="908.48" y="214" width="1" height="1.5"/><rect x="911.12" y="214.38" width="1" height="1.38"/><rect x="18.44" y="220.62" width="2.4" height="2.5"/><rect x="21.08" y="221.88" width="2.4" height="7.5"/><rect x="28.99" y="225" width="2.4" height="9.75"/><rect x="31.63" y="234.38" width="2.4" height="14.62"/><rect x="36.91" y="245.62" width="2.4" height="3.12"/><rect x="42.19" y="235.62" width="2.4" height="1.25"/><rect x="47.47" y="222.5" width="2.4" height="3.75"/><rect x="50.1" y="225.62" width="2.4" height="8.75"/><rect x="52.74" y="234.4" width="2.4" height="30"/><rect x="55.38" y="260" width="2.4" height="11.25"/><rect x="58.02" y="270.6" width="2.4" height="25"/><rect x="63.3" y="273.1" width="2.4" height="6.9"/><rect x="65.94" y="279.4" width="2.4" height="44.35"/><rect x="71.22" y="317" width="2.4" height="16.75"/><rect x="79.13" y="310" width="2.4" height="15"/><rect x="92.33" y="293.75" width="2.4" height="5"/><rect x="97.61" y="288.1" width="2.4" height="6.9"/><rect x="110.8" y="239" width="2.4" height="1.62"/><rect x="118.72" y="222.5" width="2.4" height="4.38"/><rect x="124" y="221.69" width="2.4" height="1"/><rect x="126.64" y="222.5" width="2.4" height="10.62"/><rect x="137.19" y="213.75" width="2.4" height="5.62"/><rect x="142.47" y="221.25" width="2.4" height="1.25"/><rect x="147.75" y="211.88" width="2.4" height="5"/><rect x="150.39" y="216.25" width="2.4" height="10.62"/><rect x="153.03" y="226.25" width="2.4" height="6.88"/><rect x="155.67" y="232.5" width="2.4" height="1.5"/><rect x="163.58" y="226.25" width="2.4" height="2.5"/><rect x="168.86" y="225" width="2.4" height="10.62"/><rect x="171.5" y="235.62" width="2.4" height="11.88"/><rect x="176.78" y="237.5" width="2.4" height="10.62"/><rect x="184.69" y="248.12" width="2.4" height="1.25"/><rect x="187.33" y="248.75" width="2.4" height="16.88"/><rect x="192.61" y="256.88" width="2.4" height="8.12"/><rect x="195.25" y="264.38" width="2.4" height="3.12"/><rect x="205.81" y="235.62" width="2.4" height="2.5"/><rect x="213.72" y="232.25" width="2.4" height="36.5"/><rect x="216.36" y="268.75" width="2.4" height="3.5"/><rect x="221.64" y="271.25" width="2.4" height="1.25"/><rect x="226.92" y="268.12" width="2.4" height="5"/><rect x="232.2" y="264.81" width="2.4" height="1"/><rect x="234.84" y="266" width="2.4" height="4.62"/><rect x="237.47" y="269.19" width="2.4" height="1"/><rect x="240.11" y="268.75" width="2.4" height="1.88"/><rect x="248.03" y="260.62" width="2.4" height="1.25"/><rect x="253.31" y="260" width="2.4" height="5.62"/><rect x="266.5" y="233.5" width="2.4" height="4"/><rect x="269.14" y="236.25" width="2.4" height="9.38"/><rect x="271.78" y="245" width="2.4" height="7.5"/><rect x="274.42" y="251.88" width="2.4" height="3.75"/><rect x="277.06" y="254.81" width="2.4" height="1"/><rect x="279.7" y="255.62" width="2.4" height="3.12"/><rect x="282.34" y="257.81" width="2.4" height="1"/><rect x="300.81" y="185.62" width="2.4" height="3.75"/><rect x="308.73" y="181.25" width="2.4" height="11.25"/><rect x="311.37" y="192.5" width="2.4" height="9.38"/><rect x="321.92" y="183.12" width="2.4" height="2.5"/><rect x="327.2" y="170" width="2.4" height="3.12"/><rect x="329.84" y="172.31" width="2.4" height="1"/><rect x="332.48" y="172.5" width="2.4" height="2.5"/><rect x="335.12" y="174.38" width="2.4" height="1.25"/><rect x="340.39" y="170.62" width="2.4" height="5.62"/><rect x="356.23" y="168.5" width="2.4" height="7.12"/><rect x="358.87" y="175" width="2.4" height="15"/><rect x="379.98" y="103" width="2.4" height="2.75"/><rect x="382.62" y="105.75" width="2.4" height="6.88"/><rect x="387.9" y="108.25" width="2.4" height="21.25"/><rect x="390.54" y="128.88" width="2.4" height="9.38"/><rect x="395.81" y="123.88" width="2.4" height="2.5"/><rect x="398.45" y="125.75" width="2.4" height="5"/><rect x="406.37" y="118.25" width="2.4" height="13.75"/><rect x="409.01" y="131.38" width="2.4" height="8.12"/><rect x="419.56" y="126.25" width="2.4" height="30"/><rect x="422.2" y="155.62" width="2.4" height="15"/><rect x="427.48" y="158.06" width="2.4" height="1"/><rect x="430.12" y="158.75" width="2.4" height="13.12"/><rect x="440.68" y="140" width="2.4" height="8.75"/><rect x="445.95" y="145.94" width="2.4" height="1"/><rect x="451.23" y="140" width="2.4" height="3.12"/><rect x="459.15" y="137.25" width="2.4" height="4.62"/><rect x="464.43" y="136.88" width="2.4" height="3.12"/><rect x="467.07" y="140" width="2.4" height="5"/><rect x="472.34" y="143.75" width="2.4" height="6.25"/><rect x="477.62" y="143.75" width="2.4" height="5"/><rect x="480.26" y="148.12" width="2.4" height="1.88"/><rect x="485.54" y="120.1" width="2.4" height="17.5"/><rect x="490.82" y="135" width="2.4" height="23.12"/><rect x="493.46" y="157.5" width="2.4" height="5"/><rect x="498.73" y="151.06" width="2.4" height="1"/><rect x="504.01" y="150.81" width="2.4" height="1"/><rect x="509.29" y="143.75" width="2.4" height="14.75"/><rect x="511.93" y="158.12" width="2.4" height="3.75"/><rect x="514.57" y="161.25" width="2.4" height="6.25"/><rect x="517.21" y="167.5" width="2.4" height="2.25"/><rect x="525.12" y="155.62" width="2.4" height="8.75"/><rect x="535.68" y="147.5" width="2.4" height="5"/><rect x="540.96" y="149.38" width="2.4" height="5.62"/><rect x="546.24" y="151.88" width="2.4" height="18.75"/><rect x="551.51" y="161.88" width="2.4" height="3.12"/><rect x="556.79" y="161.88" width="2.4" height="1.25"/><rect x="572.63" y="160.62" width="2.4" height="1.88"/><rect x="577.9" y="153.75" width="2.4" height="1.88"/><rect x="580.54" y="155" width="2.4" height="6.88"/><rect x="596.38" y="131.12" width="2.4" height="7.5"/><rect x="599.02" y="138" width="2.4" height="7.5"/><rect x="604.29" y="138.62" width="2.4" height="4.38"/><rect x="606.93" y="141.75" width="2.4" height="1.25"/><rect x="612.21" y="118.44" width="2.4" height="1"/><rect x="622.77" y="107.38" width="2.4" height="4.38"/><rect x="628.05" y="101.12" width="2.4" height="4.38"/><rect x="630.68" y="105.5" width="2.4" height="1.88"/><rect x="633.32" y="107.38" width="2.4" height="2.5"/><rect x="635.96" y="109.06" width="2.4" height="1"/><rect x="643.88" y="105.5" width="2.4" height="13.12"/><rect x="657.07" y="99" width="2.4" height="9.62"/><rect x="659.71" y="108" width="2.4" height="29.75"/><rect x="670.27" y="132.38" width="2.4" height="3.75"/><rect x="678.19" y="134.5" width="2.4" height="2"/><rect x="680.83" y="136.44" width="2.4" height="1"/><rect x="694.02" y="130.62" width="2.4" height="1"/><rect x="696.66" y="130.5" width="2.4" height="1.25"/><rect x="699.3" y="131.75" width="2.4" height="5"/><rect x="707.22" y="124.25" width="2.4" height="10.62"/><rect x="712.49" y="133" width="2.4" height="17.5"/><rect x="715.13" y="150.5" width="2.4" height="13.75"/><rect x="717.77" y="164.25" width="2.4" height="11.25"/><rect x="720.41" y="175.5" width="2.4" height="10.75"/><rect x="725.69" y="166.75" width="2.4" height="2.5"/><rect x="738.88" y="129.88" width="2.4" height="35.62"/><rect x="744.16" y="154.25" width="2.4" height="11.88"/><rect x="752.08" y="161.12" width="2.4" height="21.38"/><rect x="760" y="176.69" width="2.4" height="1"/><rect x="767.91" y="173.12" width="2.4" height="10.38"/><rect x="770.55" y="183.12" width="2.4" height="14.12"/><rect x="778.47" y="185" width="2.4" height="3.12"/><rect x="783.75" y="183.75" width="2.4" height="1"/><rect x="786.39" y="184.75" width="2.4" height="2.12"/><rect x="791.66" y="185.62" width="2.4" height="1.88"/><rect x="802.22" y="178.12" width="2.4" height="2.5"/><rect x="807.5" y="178.12" width="2.4" height="7.5"/><rect x="810.14" y="180.62" width="2.4" height="7.5"/><rect x="812.78" y="185.62" width="2.4" height="6.88"/><rect x="815.41" y="191.88" width="2.4" height="8.12"/><rect x="820.69" y="178.12" width="2.4" height="3.12"/><rect x="823.33" y="180.62" width="2.4" height="16.25"/><rect x="828.61" y="194.38" width="2.4" height="5"/><rect x="831.25" y="198.75" width="2.4" height="11.25"/><rect x="833.89" y="206.88" width="2.4" height="5.62"/><rect x="841.8" y="198.12" width="2.4" height="1.88"/><rect x="844.44" y="199.38" width="2.4" height="1.88"/><rect x="847.08" y="201.25" width="2.4" height="5.62"/><rect x="849.72" y="206.06" width="2.4" height="1"/><rect x="862.92" y="185.62" width="2.4" height="22.5"/><rect x="868.19" y="203.75" width="2.4" height="3.12"/><rect x="870.83" y="204.38" width="2.4" height="8.75"/><rect x="873.47" y="210" width="2.4" height="7.5"/><rect x="876.11" y="215.62" width="2.4" height="9.38"/><rect x="878.75" y="224.06" width="2.4" height="1"/><rect x="884.03" y="217.31" width="2.4" height="1"/><rect x="891.95" y="212.25" width="2.4" height="4.25"/><rect x="897.22" y="215.38" width="2.4" height="1"/><rect x="899.86" y="215.75" width="2.4" height="1"/><rect x="905.14" y="213.88" width="2.4" height="1"/><rect x="907.78" y="214.19" width="2.4" height="1"/><rect x="910.42" y="214.5" width="2.4" height="1"/></g>
<line x1="17.3" y1="215.9" x2="1067.5" y2="215.9" stroke="#F23645" stroke-width="1.5" stroke-opacity="0.62" stroke-dasharray="1.3 1.3"/>
<rect x="916" y="125.3" width="106" height="85.2" fill="#089981" fill-opacity="0.2"/>
<rect x="916" y="210.5" width="106" height="46.5" fill="#F23645" fill-opacity="0.2"/>
<line x1="916" y1="210.6" x2="1022.2" y2="210.6" stroke="#787B86" stroke-width="1" stroke-opacity="0.6"/>
<g stroke="#2962FF" stroke-width="2.7" fill="none" stroke-linecap="round" stroke-linejoin="round">
<line x1="45.5" y1="209.4" x2="919.4" y2="210.7"/>
<polyline points="733.3,121.8 919.2,210.7 910.9,240.4 720.8,187.3"/>
</g>
<g stroke="#089981" stroke-width="2.7" fill="none" stroke-linecap="round" stroke-linejoin="round">
<line x1="919.2" y1="210.2" x2="995.5" y2="126"/>
<polyline points="972.2,127.4 995.5,126 996.8,148.8"/>
</g>
<g fill="none" stroke="#9C27B0" stroke-width="2.1" stroke-linecap="round">
<path d="M 916.64 383.46 A 15.8 15.8 0 1 0 926.61 393.78"/>
</g>
<path d="M915.65 390.5 L904.5 399.6 L910.55 399.7 L906.8 406.7 L918.05 397.4 L911.95 397.3 Z" fill="#9C27B0" stroke="#9C27B0" stroke-width="0.4" stroke-linejoin="round"/>
<circle cx="922.2" cy="387.4" r="4.2" fill="#F23645"/>
</g>
<text x="1083.24" y="99.65" fill="#131722" font-size="19.6" textLength="84.11" lengthAdjust="spacingAndGlyphs">72,000.00</text>
<text x="1083.24" y="161.65" fill="#131722" font-size="19.6" textLength="84.11" lengthAdjust="spacingAndGlyphs">68,000.00</text>
<text x="1083.24" y="287.65" fill="#131722" font-size="19.6" textLength="84.11" lengthAdjust="spacingAndGlyphs">60,000.00</text>
<text x="1083.48" y="351.55" fill="#131722" font-size="19.6" textLength="83.87" lengthAdjust="spacingAndGlyphs">56,000.00</text>
<text x="1083.48" y="414.05" fill="#131722" font-size="19.6" textLength="83.87" lengthAdjust="spacingAndGlyphs">52,000.00</text>
<path d="M1068 111.8 H1173.5 Q1176 111.8 1176 114.3 V137.3 Q1176 139.8 1173.5 139.8 H1068 Z" fill="#089981"/>
<path d="M1068 174.2 H1173.5 Q1176 174.2 1176 176.7 V199.3 Q1176 201.8 1173.5 201.8 H1068 Z" fill="#787B86"/>
<path d="M1068 201.6 H1173.5 Q1176 201.6 1176 204.1 V249.7 Q1176 252.2 1173.5 252.2 H1068 Z" fill="#F23645"/>
<path d="M1068 251 H1173.5 Q1176 251 1176 253.5 V277 Q1176 279.5 1173.5 279.5 H1068 Z" fill="#F23645"/>
<path d="M1068 391.2 H1121.5 Q1124 391.2 1124 393.7 V416.1 Q1124 418.6 1121.5 418.6 H1068 Z" fill="#EF5350"/>
<text x="1083.63" y="130.55" fill="#fff" font-size="19.6" textLength="84.26" lengthAdjust="spacingAndGlyphs">70,039.37</text>
<text x="1083.22" y="192.85" fill="#fff" font-size="19.6" textLength="85.18" lengthAdjust="spacingAndGlyphs">64,672.75</text>
<text x="1083.22" y="220.8" fill="#fff" font-size="19.6" textLength="85.18" lengthAdjust="spacingAndGlyphs">64,318.85</text>
<text x="1083.67" y="242.7" fill="#fff" font-size="19.6" textLength="74.03" lengthAdjust="spacingAndGlyphs" fill-opacity="0.72">02:38:32</text>
<text x="1083.22" y="269.8" fill="#fff" font-size="19.6" textLength="85.18" lengthAdjust="spacingAndGlyphs">61,713.58</text>
<text x="1083.2" y="412.5" fill="#fff" font-size="19.6" textLength="32.86" lengthAdjust="spacingAndGlyphs">292</text>
<text x="16.44" y="31.9" fill="#131722" font-size="19.7" textLength="84.37" lengthAdjust="spacingAndGlyphs">Published</text>
<text x="106.17" y="31.9" fill="#131722" font-size="19.7" textLength="21.46" lengthAdjust="spacingAndGlyphs">on</text>
<text x="132.41" y="31.9" fill="#131722" font-size="19.7" textLength="152.5" lengthAdjust="spacingAndGlyphs">TradingView.com,</text>
<text x="289.96" y="31.9" fill="#131722" font-size="19.7" textLength="31.07" lengthAdjust="spacingAndGlyphs">Jun</text>
<text x="325.75" y="31.9" fill="#131722" font-size="19.7" textLength="26.03" lengthAdjust="spacingAndGlyphs">23,</text>
<text x="355.92" y="31.9" fill="#131722" font-size="19.7" textLength="42.93" lengthAdjust="spacingAndGlyphs">2024</text>
<text x="405.3" y="31.9" fill="#131722" font-size="19.7" textLength="46.07" lengthAdjust="spacingAndGlyphs">13:21</text>
<text x="457.68" y="31.9" fill="#131722" font-size="19.7" textLength="35.65" lengthAdjust="spacingAndGlyphs">UTC</text>
<text x="29.02" y="75.3" fill="#131722" font-size="18.9" textLength="59.75" lengthAdjust="spacingAndGlyphs">Bitcoin</text>
<text x="95" y="75.3" fill="#131722" font-size="18.9" textLength="6.25" lengthAdjust="spacingAndGlyphs">/</text>
<text x="105.77" y="75.3" fill="#131722" font-size="18.9" textLength="80.92" lengthAdjust="spacingAndGlyphs">TetherUS,</text>
<text x="191.98" y="75.3" fill="#131722" font-size="18.9" textLength="27.36" lengthAdjust="spacingAndGlyphs">4h,</text>
<text x="223.6" y="75.3" fill="#131722" font-size="18.9" textLength="78.33" lengthAdjust="spacingAndGlyphs">BINANCE</text>
<text x="312.79" y="75.3" fill="#131722" font-size="18.9" textLength="14.13" lengthAdjust="spacingAndGlyphs">O</text>
<text x="326.99" y="75.3" fill="#F23645" font-size="18.9" textLength="85.07" lengthAdjust="spacingAndGlyphs">64,341.46</text>
<text x="420.82" y="75.3" fill="#131722" font-size="18.9" textLength="15.28" lengthAdjust="spacingAndGlyphs">H</text>
<text x="435.23" y="75.3" fill="#F23645" font-size="18.9" textLength="85.58" lengthAdjust="spacingAndGlyphs">64,429.10</text>
<text x="528.91" y="75.3" fill="#131722" font-size="18.9" textLength="11.13" lengthAdjust="spacingAndGlyphs">L</text>
<text x="540.24" y="75.3" fill="#F23645" font-size="18.9" textLength="84.81" lengthAdjust="spacingAndGlyphs">64,310.00</text>
<text x="634" y="75.3" fill="#131722" font-size="18.9" textLength="13.66" lengthAdjust="spacingAndGlyphs">C</text>
<text x="646.99" y="75.3" fill="#F23645" font-size="18.9" textLength="85.07" lengthAdjust="spacingAndGlyphs">64,318.85</text>
<text x="741.99" y="75.3" fill="#F23645" font-size="18.9" textLength="58.83" lengthAdjust="spacingAndGlyphs">−22.60</text>
<text x="805.76" y="75.3" fill="#F23645" font-size="18.9" textLength="76.67" lengthAdjust="spacingAndGlyphs">(−0.04%)</text>
<text x="45.81" y="448.6" fill="#131722" font-size="19.6" textLength="36.31" lengthAdjust="spacingAndGlyphs" font-weight="bold">May</text>
<text x="243" y="448.6" fill="#131722" font-size="19.6" textLength="21.8" lengthAdjust="spacingAndGlyphs">13</text>
<text x="385.15" y="448.6" fill="#131722" font-size="19.6" textLength="22.85" lengthAdjust="spacingAndGlyphs">22</text>
<text x="538.97" y="448.6" fill="#131722" font-size="19.6" textLength="32.45" lengthAdjust="spacingAndGlyphs" font-weight="bold">Jun</text>
<text x="686.74" y="448.6" fill="#131722" font-size="19.6" textLength="21.24" lengthAdjust="spacingAndGlyphs">10</text>
<text x="829.12" y="448.6" fill="#131722" font-size="19.6" textLength="21.51" lengthAdjust="spacingAndGlyphs">19</text>
<text x="1016.46" y="448.6" fill="#131722" font-size="19.6" textLength="26.99" lengthAdjust="spacingAndGlyphs" font-weight="bold">Jul</text>
<text x="54.09" y="499.75" fill="#131722" font-size="20.3" textLength="113.92" lengthAdjust="spacingAndGlyphs">TradingView</text>
<g fill="#131722">
<path d="M16 484.1 H28.7 V498.7 H22.5 V489.5 H16 Z"/>
<circle cx="34.3" cy="487.3" r="3.55"/>
<path d="M41.3 484.1 H48.3 L41.5 498.7 H34.5 Z"/>
</g>
</svg>
</body>
</html>
